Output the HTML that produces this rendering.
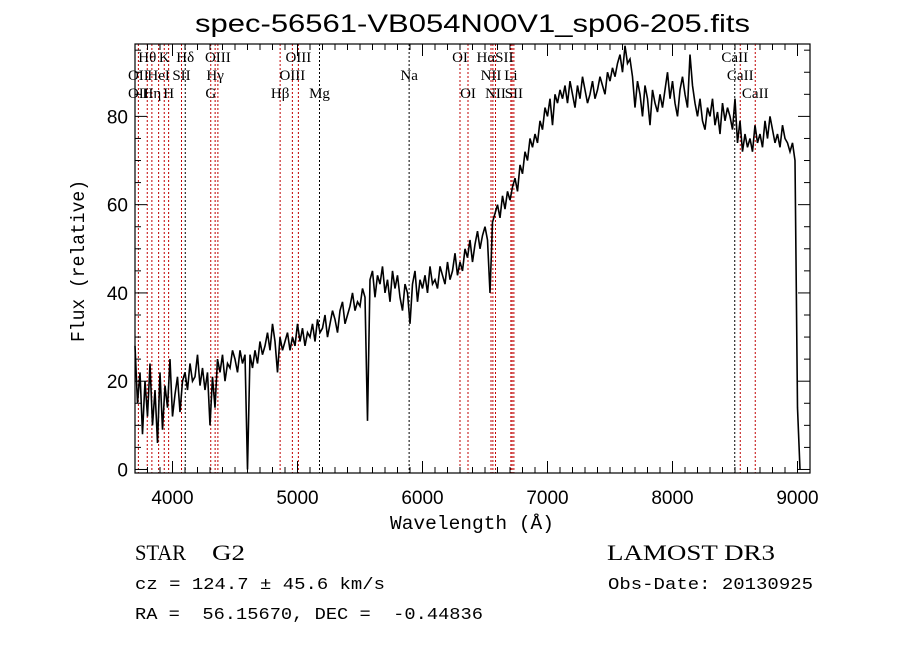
<!DOCTYPE html>
<html><head><meta charset="utf-8">
<style>
html,body{margin:0;padding:0;background:#fff;}
svg{display:block;}
.lab{font-family:"Liberation Serif",serif;font-size:15px;fill:#000;}
.tick{font-family:"Liberation Sans",sans-serif;font-size:19px;fill:#000;}
text{white-space:pre;}
</style></head>
<body>
<svg id="chart" width="900" height="649" viewBox="0 0 900 649" xmlns="http://www.w3.org/2000/svg" xml:space="preserve">
<rect width="900" height="649" fill="#fff"/>
<text x="195" y="32" textLength="555" lengthAdjust="spacingAndGlyphs" font-family="Liberation Sans, sans-serif" font-size="25" fill="#000">spec-56561-VB054N00V1_sp06-205.fits</text>
<g id="lines"></g>
<g id="labels"></g>
<polyline id="spec" fill="none" stroke="#000" stroke-width="1.6"/>
<g id="axes"></g>
<rect x="135" y="44" width="675" height="429" fill="none" stroke="#000" stroke-width="1.2"/>
<text x="390" y="529" textLength="164" lengthAdjust="spacingAndGlyphs" font-family="Liberation Mono, monospace" font-size="19" fill="#000">Wavelength (Å)</text>
<text transform="translate(84,342) rotate(-90)" textLength="162" lengthAdjust="spacingAndGlyphs" font-family="Liberation Mono, monospace" font-size="19" fill="#000">Flux (relative)</text>
<text x="135" y="560" textLength="51" lengthAdjust="spacingAndGlyphs" font-family="Liberation Serif, serif" font-size="22" fill="#000">STAR</text>
<text x="212" y="560" textLength="33" lengthAdjust="spacingAndGlyphs" font-family="Liberation Serif, serif" font-size="22" fill="#000">G2</text>
<text x="607" y="560" textLength="168" lengthAdjust="spacingAndGlyphs" font-family="Liberation Serif, serif" font-size="22" fill="#000">LAMOST DR3</text>
<text x="135" y="589" textLength="250" lengthAdjust="spacingAndGlyphs" font-family="Liberation Mono, monospace" font-size="17" fill="#000">cz = 124.7 ± 45.6 km/s</text>
<text x="608" y="589" textLength="205" lengthAdjust="spacingAndGlyphs" font-family="Liberation Mono, monospace" font-size="17" fill="#000">Obs-Date: 20130925</text>
<text x="135" y="619" textLength="348" lengthAdjust="spacingAndGlyphs" font-family="Liberation Mono, monospace" font-size="17" fill="#000">RA =  56.15670, DEC =  -0.44836</text>
</svg>
<script>
const wlStart = 3700;
const wlStep = 20;
const flux = [
28,15,22,8,20,12,24,10,18,6,
22,9,19,14,25,12,17,21,13,20,
22,18,24,20,21,26,19,23,18,22,
10,21,14,25,22,26,20,24,23,27,
25,22,27,24,26,0,26,23,27,24,
29,26,28,31,27,33,29,22,30,27,
29,31,27,30,28,33,29,32,28,31,
30,33,29,34,31,32,35,30,33,36,
34,31,36,38,33,35,37,40,36,38,
37,41,39,11,43,45,39,44,42,46,
40,43,38,45,41,44,39,36,42,40,
33,42,45,38,43,41,44,40,46,42,
43,41,46,44,42,47,43,45,49,44,
47,45,50,48,52,47,51,54,50,53,
55,52,40,56,58,60,57,62,59,63,
61,64,66,63,69,67,72,70,75,73,
76,74,79,77,82,80,84,78,85,83,
86,84,87,83,88,85,82,87,84,89,
86,83,85,88,84,86,89,87,85,90,
88,91,89,92,94,90,96,92,93,89,
82,88,85,80,87,84,78,86,83,81,
85,82,86,90,84,88,83,80,86,89,
85,82,94,87,83,80,84,79,77,82,
80,84,78,81,76,83,79,82,80,77,
84,74,79,72,76,73,75,72,78,74,
76,73,79,75,80,77,74,76,73,78,
75,74,72,74,70,14,0
];
const lineWaves = [3727,3798,3835,3889,3934,3969,4072,4102,4306,4341,4363,4861,4959,5007,5176,5893,6300,6364,6548,6563,6584,6707,6717,6731,8498,8542,8662];
const lineColors = ["r","r","r","r","r","r","r","k","r","r","r","r","r","r","k","k","r","r","r","r","r","r","r","r","k","r","r"];
const labelTexts = ["Hθ","K","Hδ","OIII","OIII","OI","HαSII","CaII","OII","HeI","SII","Hγ","OIII","Na","NII","Li","CaII","OII","Hη","H","G","Hβ","Mg","OI","NII","SII","CaII"];
const labelWaves = [3798,3934,4102,4363,5007,6300,6580,8498,3727,3889,4072,4341,4959,5893,6548,6707,8542,3727,3835,3969,4306,4861,5176,6364,6584,6731,8662];
const labelRows = [0,0,0,0,0,0,0,0,1,1,1,1,1,1,1,1,1,2,2,2,2,2,2,2,2,2,2];
const xTicks = [4000,5000,6000,7000,8000,9000];
const yTicks = [0,20,40,60,80];

const X0=135,X1=810,Y0=473,Y1=44,WMIN=3700,WMAX=9100,FMIN=-0.8,FMAX=96.4;
function xs(w){return X0+(w-WMIN)/(WMAX-WMIN)*(X1-X0);}
function ys(f){return Y0-(f-FMIN)/(FMAX-FMIN)*(Y0-Y1);}
const NS="http://www.w3.org/2000/svg";
function mk(t,a){const e=document.createElementNS(NS,t);for(const k in a)e.setAttribute(k,a[k]);return e;}

const gl=document.getElementById('lines');
lineWaves.forEach((w,i)=>{
  const l=mk('line',{x1:xs(w),x2:xs(w),y1:Y1,y2:Y0,stroke:lineColors[i]==="r"?"#c00000":"#000","stroke-width":1,"stroke-dasharray":"2,2"});
  
  
  gl.appendChild(l);
});
const glb=document.getElementById('labels');
const rowY=[62,80,98];
labelTexts.forEach((t,i)=>{
  const e=mk('text',{x:xs(labelWaves[i]),y:rowY[labelRows[i]],"text-anchor":"middle",class:"lab"});
  e.textContent=t;
  
  
  glb.appendChild(e);
});
document.getElementById('spec').setAttribute('points',flux.map((f,i)=>xs(wlStart+i*wlStep).toFixed(1)+","+ys(f).toFixed(1)).join(" "));

const ga=document.getElementById('axes');
for(let w=3700;w<=9100;w+=100){
  const maj=w%1000===0, L=maj?12:6;
  ga.appendChild(mk('line',{x1:xs(w),x2:xs(w),y1:Y0,y2:Y0-L,stroke:"#000"}));
  ga.appendChild(mk('line',{x1:xs(w),x2:xs(w),y1:Y1,y2:Y1+L,stroke:"#000"}));
}
for(let f=0;f<=95;f+=5){
  const maj=f%20===0, L=maj?12:6;
  ga.appendChild(mk('line',{x1:X0,x2:X0+L,y1:ys(f),y2:ys(f),stroke:"#000"}));
  ga.appendChild(mk('line',{x1:X1,x2:X1-L,y1:ys(f),y2:ys(f),stroke:"#000"}));
}
xTicks.forEach(v=>{
  const e=mk('text',{x:xs(v),y:504,"text-anchor":"middle",class:"tick"});
  e.textContent=v;
  
  
  ga.appendChild(e);
});
yTicks.forEach(v=>{
  const e=mk('text',{x:128,y:ys(v)+7,"text-anchor":"end",class:"tick"});
  e.textContent=v;
  
  
  ga.appendChild(e);
});
</script>
</body></html>
